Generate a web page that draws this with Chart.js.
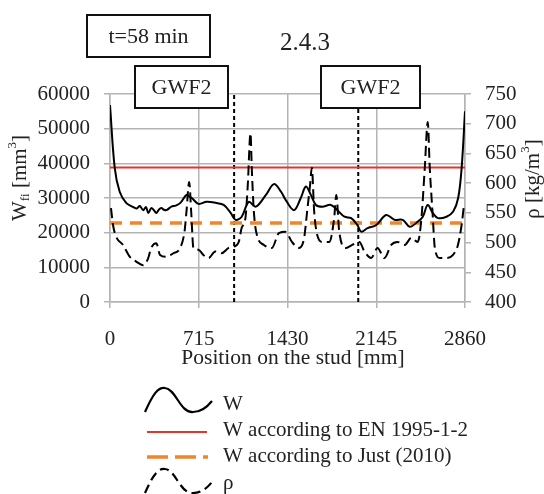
<!DOCTYPE html>
<html>
<head>
<meta charset="utf-8">
<script src="https://cdn.jsdelivr.net/npm/chart.js"></script>
<style>
  html, body { margin: 0; padding: 0; background: #fff; }
  #wrap { width: 544px; height: 494px; }
</style>
</head>
<body>
<div id="wrap"><canvas id="chart" width="544" height="494"></canvas></div>
<script>
// tick labels
const xTicks = [0, 715, 1430, 2145, 2860];

// W curve (left axis)
const wPos = [0, 38, 78, 130, 180, 215, 240, 267, 290, 308, 333, 355, 373, 395, 414, 435, 455, 495,
  530, 567, 617, 640, 659, 713, 778, 851, 916, 972, 1012, 1061, 1118, 1175, 1256, 1321, 1378, 1416,
  1483, 1537, 1578, 1618, 1659, 1710, 1780, 1832, 1889, 1943, 1993, 2023, 2075, 2145, 2225, 2293,
  2358, 2415, 2480, 2520, 2560, 2600, 2642, 2711, 2765, 2805, 2833, 2860];
const wVals = [56800, 38700, 31800, 28600, 27500, 27000, 27700, 26500, 27400, 25700, 27100, 26400,
  25700, 26700, 27100, 26600, 26500, 27500, 27800, 28600, 30900, 30400, 30000, 28300, 28900, 28600,
  28000, 25700, 23700, 24600, 28900, 27500, 30900, 34000, 31800, 29400, 26500, 30000, 33300, 30900,
  28000, 27500, 28000, 26500, 24600, 24200, 22200, 20300, 21300, 22200, 25100, 23700, 23700, 21700,
  23200, 24600, 28000, 25700, 24200, 24600, 26100, 30000, 38700, 55000];

// rho curve (right axis)
const rhoPos = [8, 24, 49, 105, 160, 211, 267, 308, 332, 373, 403, 454, 510, 565, 600, 616, 638, 654,
  672, 713, 753, 794, 848, 899, 956, 997, 1037, 1061, 1091, 1110, 1132, 1142, 1159, 1183, 1240, 1304,
  1361, 1415, 1466, 1523, 1564, 1588, 1612, 1626, 1645, 1669, 1710, 1766, 1806, 1823, 1847, 1901,
  1952, 2009, 2050, 2104, 2155, 2211, 2266, 2317, 2374, 2428, 2479, 2509, 2536, 2560, 2576, 2598,
  2617, 2657, 2711, 2762, 2803, 2833, 2850];
const rhoVals = [558, 530, 510, 496, 476, 468, 462, 474, 491, 499, 479, 476, 482, 491, 518, 552, 602,
  552, 491, 488, 479, 474, 485, 482, 491, 493, 501, 525, 541, 597, 684, 626, 552, 513, 496, 491, 516,
  518, 501, 491, 508, 552, 597, 626, 552, 513, 501, 501, 541, 580, 518, 491, 496, 501, 485, 474, 491,
  474, 496, 501, 496, 508, 501, 541, 626, 703, 626, 552, 491, 474, 474, 479, 496, 530, 560];

// reference lines
const enPos = [0, 2860];
const enVals = [38800, 38800];
const justPos = [0, 2860];
const justVals = [22800, 22800];
const gwfPos = [1000, 2000];

const serif = '"Liberation Serif", "Times New Roman", serif';
const txt = '#222';
const gridCol = '#b4b4b4';

const toPts = (xs, ys) => xs.map((x, i) => ({ x: x, y: ys[i] }));

const datasets = [
  { label: 'W', data: toPts(wPos, wVals), yAxisID: 'y', borderColor: '#000', borderWidth: 2,
    pointRadius: 0, tension: 0.35, order: 1 },
  { label: 'W according to EN 1995-1-2', data: toPts(enPos, enVals), yAxisID: 'y',
    borderColor: '#e8332b', borderWidth: 2, pointRadius: 0, order: 3 },
  { label: 'W according to Just (2010)', data: toPts(justPos, justVals), yAxisID: 'y',
    borderColor: '#f0852d', borderWidth: 3.5, borderDash: [12, 8], pointRadius: 0, order: 2 },
  { label: 'ρ', data: toPts(rhoPos, rhoVals), yAxisID: 'y2', borderColor: '#000', borderWidth: 2,
    borderDash: [10, 5], pointRadius: 0, cubicInterpolationMode: 'monotone', order: 0 }
];
gwfPos.forEach(p => {
  datasets.push({ label: 'GWF2', data: [{ x: p, y: 0 }, { x: p, y: 60000 }], yAxisID: 'y',
    borderColor: '#000', borderWidth: 2, borderDash: [4, 3], pointRadius: 0, order: 4 });
});

function runs(ctx, parts, cx, cy, rot) {
  ctx.save();
  ctx.translate(cx, cy);
  if (rot) ctx.rotate(rot);
  let total = 0;
  parts.forEach(p => { ctx.font = p.size + 'px ' + serif; p.w = ctx.measureText(p.t).width; total += p.w; });
  let x = -total / 2;
  ctx.textBaseline = 'middle';
  ctx.textAlign = 'left';
  ctx.fillStyle = txt;
  parts.forEach(p => {
    ctx.font = p.size + 'px ' + serif;
    ctx.fillText(p.t, x, p.dy || 0);
    x += p.w;
  });
  ctx.restore();
}

function box(ctx, x1, y1, x2, y2, label, size) {
  ctx.save();
  ctx.fillStyle = '#fff';
  ctx.fillRect(x1, y1, x2 - x1, y2 - y1);
  ctx.strokeStyle = '#111';
  ctx.lineWidth = 2;
  ctx.strokeRect(x1, y1, x2 - x1, y2 - y1);
  ctx.restore();
  runs(ctx, [{ t: label, size: size }], (x1 + x2) / 2, (y1 + y2) / 2 + 1);
}

function wave(ctx, dy, dash) {
  ctx.save();
  ctx.strokeStyle = '#000';
  ctx.lineWidth = 2.2;
  ctx.setLineDash(dash);
  ctx.beginPath();
  ctx.moveTo(145, 412 + dy);
  ctx.bezierCurveTo(153, 394 + dy, 158, 387 + dy, 165, 388 + dy);
  ctx.bezierCurveTo(176, 389 + dy, 180, 413 + dy, 193, 412 + dy);
  ctx.bezierCurveTo(202, 412 + dy, 208, 406 + dy, 212, 401 + dy);
  ctx.stroke();
  ctx.restore();
}

const decor = {
  id: 'decor',
  afterDraw(chart) {
    const ctx = chart.ctx;
    // header boxes
    box(ctx, 87, 15, 210, 57, 't=58 min', 22);
    runs(ctx, [{ t: '2.4.3', size: 25 }], 305, 43);
    box(ctx, 135, 66, 228, 108, 'GWF2', 22);
    box(ctx, 321, 66, 420, 108, 'GWF2', 22);

    // axis titles
    runs(ctx, [{ t: 'W', size: 21 }, { t: 'fi', size: 13, dy: 6 }, { t: ' [mm', size: 21 },
      { t: '3', size: 13, dy: -7 }, { t: ']', size: 21 }], 20, 178, -Math.PI / 2);
    runs(ctx, [{ t: 'ρ [kg/m', size: 21 }, { t: '3', size: 13, dy: -7 }, { t: ']', size: 21 }],
      533, 179, -Math.PI / 2);
    runs(ctx, [{ t: 'Position on the stud [mm]', size: 21.5 }], 293, 358);

    // legend
    wave(ctx, 0, []);
    ctx.save();
    ctx.strokeStyle = '#e8332b';
    ctx.lineWidth = 2;
    ctx.beginPath(); ctx.moveTo(147, 432); ctx.lineTo(207, 432); ctx.stroke();
    ctx.strokeStyle = '#f0852d';
    ctx.lineWidth = 3.5;
    ctx.setLineDash([21, 7]);
    ctx.beginPath(); ctx.moveTo(147, 457); ctx.lineTo(208, 457); ctx.stroke();
    ctx.restore();
    wave(ctx, 81, [9, 5]);
    const items = ['W', 'W according to EN 1995-1-2', 'W according to Just (2010)', 'ρ'];
    const ys = [404, 430, 456, 483];
    ctx.save();
    ctx.font = '21px ' + serif;
    ctx.fillStyle = txt;
    ctx.textBaseline = 'middle';
    items.forEach((t, i) => ctx.fillText(t, 223, ys[i]));
    ctx.restore();
  }
};

new Chart(document.getElementById('chart'), {
  type: 'line',
  data: { datasets: datasets },
  options: {
    responsive: false,
    animation: false,
    devicePixelRatio: 1,
    layout: { padding: { top: 94, left: 0, right: 0, bottom: 0 } },
    plugins: { legend: { display: false }, tooltip: { enabled: false } },
    scales: {
      x: {
        type: 'linear', min: 0, max: 2860,
        afterBuildTicks: s => { s.ticks = xTicks.map(v => ({ value: v })); },
        afterFit: s => { s.height = 192; },
        ticks: { font: { family: serif, size: 21 }, color: txt, padding: 19, maxRotation: 0,
          callback: v => String(v) },
        grid: { color: gridCol, lineWidth: 1.5, tickLength: 6 },
        border: { color: gridCol, width: 1.5 }
      },
      y: {
        position: 'left', min: 0, max: 60000,
        afterFit: s => { s.width = 110; },
        ticks: { stepSize: 10000, font: { family: serif, size: 21 }, color: txt, padding: 14,
          callback: v => String(v) },
        grid: { color: gridCol, lineWidth: 1.5, tickLength: 6 },
        border: { color: gridCol, width: 1.5 }
      },
      y2: {
        position: 'right', min: 400, max: 750,
        afterFit: s => { s.width = 79; },
        ticks: { stepSize: 50, font: { family: serif, size: 21 }, color: txt, padding: 14,
          callback: v => String(v) },
        grid: { drawOnChartArea: false, color: gridCol, lineWidth: 1.5, tickLength: 6 },
        border: { color: gridCol, width: 1.5 }
      }
    }
  },
  plugins: [decor]
});
</script>
</body>
</html>
